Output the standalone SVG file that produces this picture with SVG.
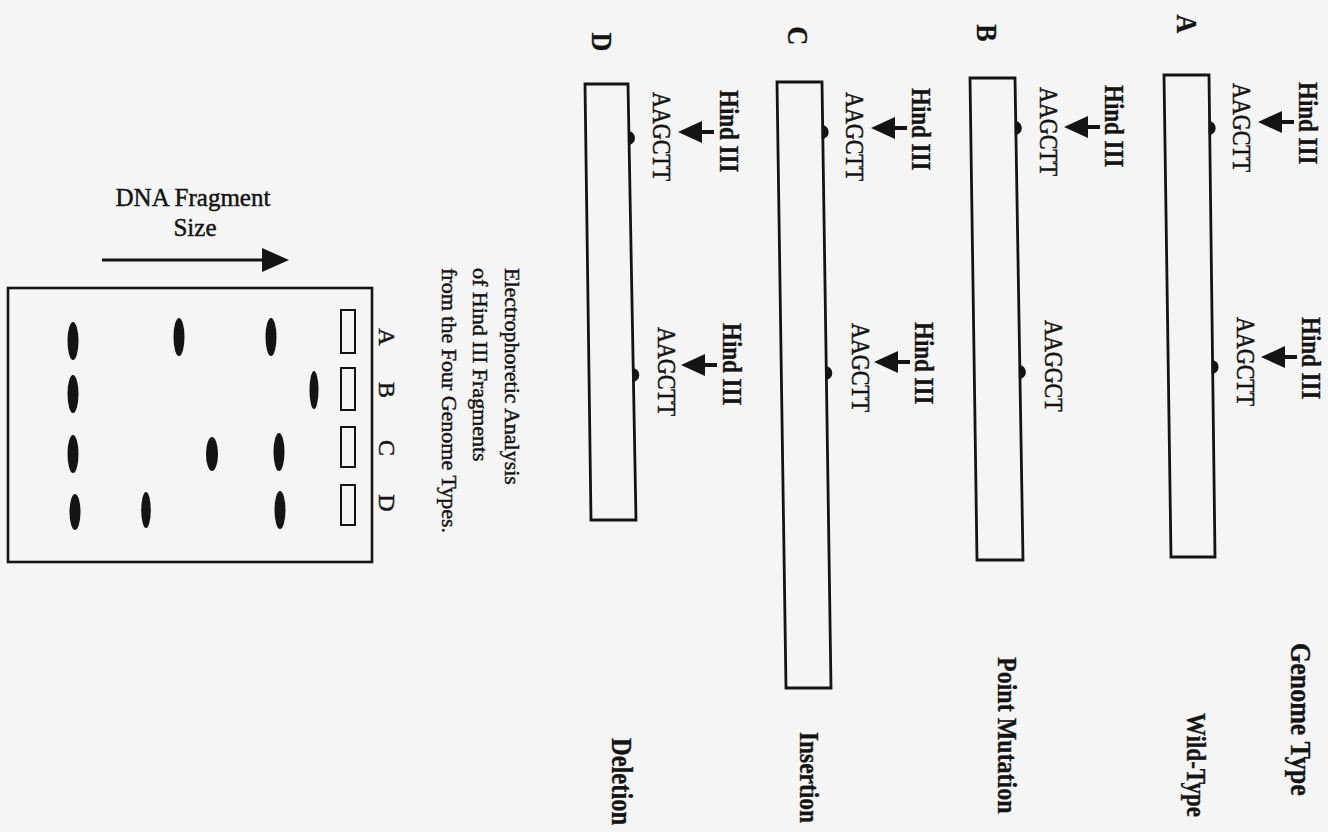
<svg xmlns="http://www.w3.org/2000/svg" xmlns:xlink="http://www.w3.org/1999/xlink" width="1328" height="832" viewBox="0 0 1328 832">
<style>
  .t { font-family: "Liberation Serif", "Times New Roman", serif; fill: #141414; stroke: #141414; stroke-width: 0.45; }
  .b { font-weight: bold; stroke-width: 0.3; }
  .hind { font-size: 23px; font-weight: bold; stroke-width: 0.3; }
  .seq { font-size: 22px; }
  .lab { font-size: 26px; font-weight: bold; stroke-width: 0.3; }
  .box { fill: none; stroke: #141414; stroke-width: 2.8; stroke-linejoin: miter; }
  .bump { fill: #141414; }
  .band { fill: #141414; }
  .well { fill: none; stroke: #141414; stroke-width: 2; }
  .gel { fill: none; stroke: #141414; stroke-width: 2.6; }
  .cap { font-size: 22px; }
  .lane { font-size: 24px; }
</style>
<defs>
  <path id="harrow" d="M0,0 L24,-11 L24,-2 L36,-2 L36,2 L24,2 L24,11 Z" fill="#141414"/>
</defs>
<rect x="0" y="0" width="1328" height="832" fill="#f5f5f5"/>

<g id="title">
  <text class="t b" font-size="26" transform="translate(1291,643) rotate(90) scale(1,1.17)">Genome Type</text>
</g>

<g id="genome-A">
  <text class="t lab" text-anchor="middle" transform="translate(1177,24) rotate(90) scale(1,1.17)">A</text>
  <polygon class="box" points="1164,75 1209,75 1215,557 1171,557"/>
  <path class="bump" d="M1208.7,121 A7,7 0 0 1 1208.7,135 Z"/>
  <path class="bump" d="M1211.6,360 A7,7 0 0 1 1211.6,374 Z"/>
  <text class="t hind" transform="translate(1299,82) rotate(90) scale(1,1.17)">Hind III</text>
  <text class="t hind" transform="translate(1302,317) rotate(90) scale(1,1.17)">Hind III</text>
  <text class="t seq" transform="translate(1233,83) rotate(90) scale(1,1.17)">AAGCTT</text>
  <text class="t seq" transform="translate(1237,317) rotate(90) scale(1,1.17)">AAGCTT</text>
  <text class="t b" font-size="23" transform="translate(1187,713) rotate(90) scale(1,1.17)">Wild-Type</text>
</g>

<g id="genome-B">
  <text class="t lab" text-anchor="middle" transform="translate(977,33) rotate(90) scale(1,1.17)">B</text>
  <polygon class="box" points="970,78 1015,78 1023,560 977,560"/>
  <path class="bump" d="M1014.8,121 A7,7 0 0 1 1014.8,135 Z"/>
  <path class="bump" d="M1018.9,365 A7,7 0 0 1 1018.9,379 Z"/>
  <text class="t hind" transform="translate(1105,85) rotate(90) scale(1,1.17)">Hind III</text>
  <text class="t seq" transform="translate(1040,87) rotate(90) scale(1,1.17)">AAGCTT</text>
  <text class="t seq" transform="translate(1045,320) rotate(90) scale(1,1.17)">AAGGCT</text>
  <text class="t b" font-size="24" transform="translate(998,657) rotate(90) scale(1,1.17)">Point Mutation</text>
</g>

<g id="genome-C">
  <text class="t lab" text-anchor="middle" transform="translate(788,36) rotate(90) scale(1,1.17)">C</text>
  <polygon class="box" points="777,82 822,82 831,688 786,688"/>
  <path class="bump" d="M821.7,125 A7,7 0 0 1 821.7,139 Z"/>
  <path class="bump" d="M825.3,366 A7,7 0 0 1 825.3,380 Z"/>
  <text class="t hind" transform="translate(912,88) rotate(90) scale(1,1.17)">Hind III</text>
  <text class="t hind" transform="translate(915,322) rotate(90) scale(1,1.17)">Hind III</text>
  <text class="t seq" transform="translate(846,92) rotate(90) scale(1,1.17)">AAGCTT</text>
  <text class="t seq" transform="translate(852,323) rotate(90) scale(1,1.17)">AAGCTT</text>
  <text class="t b" font-size="23.4" transform="translate(800,732) rotate(90) scale(1,1.17)">Insertion</text>
</g>

<g id="genome-D">
  <text class="t lab" text-anchor="middle" transform="translate(592,42) rotate(90) scale(1,1.17)">D</text>
  <polygon class="box" points="585,84 628,84 636,520 591,520"/>
  <path class="bump" d="M628,131 A7,7 0 0 1 628,145 Z"/>
  <path class="bump" d="M632.3,368 A7,7 0 0 1 632.3,382 Z"/>
  <text class="t hind" transform="translate(720,90) rotate(90) scale(1,1.17)">Hind III</text>
  <text class="t hind" transform="translate(723,323) rotate(90) scale(1,1.17)">Hind III</text>
  <text class="t seq" transform="translate(653,92) rotate(90) scale(1,1.17)">AAGCTT</text>
  <text class="t seq" transform="translate(658,327) rotate(90) scale(1,1.17)">AAGCTT</text>
  <text class="t b" font-size="24.5" transform="translate(612,738) rotate(90) scale(1,1.17)">Deletion</text>
</g>

<g id="caption">
  <text class="t cap" transform="translate(505,268) rotate(90)">Electrophoretic Analysis</text>
  <text class="t cap" transform="translate(473,268) rotate(90)">of Hind III Fragments</text>
  <text class="t cap" transform="translate(442,268) rotate(90)">from the Four Genome Types.</text>
</g>

<g id="size-label">
  <text class="t" font-size="25" x="193" y="206" text-anchor="middle">DNA Fragment</text>
  <text class="t" font-size="25" x="195" y="236" text-anchor="middle">Size</text>
</g>

<g id="gel">
  <rect class="gel" x="8" y="288" width="364" height="274"/>
  <rect class="well" x="341" y="310" width="14" height="43"/>
  <rect class="well" x="341" y="368" width="14" height="42"/>
  <rect class="well" x="341" y="427" width="14" height="40"/>
  <rect class="well" x="341" y="485" width="14" height="40"/>
  <text class="t lane" text-anchor="middle" transform="translate(379,337) rotate(90)">A</text>
  <text class="t lane" text-anchor="middle" transform="translate(379,390) rotate(90)">B</text>
  <text class="t lane" text-anchor="middle" transform="translate(379,448) rotate(90)">C</text>
  <text class="t lane" text-anchor="middle" transform="translate(379,503) rotate(90)">D</text>
  <ellipse class="band" cx="271" cy="337" rx="5.5" ry="19"/>
  <ellipse class="band" cx="179" cy="337" rx="5.5" ry="19"/>
  <ellipse class="band" cx="73" cy="341" rx="5.5" ry="19"/>
  <ellipse class="band" cx="314" cy="390" rx="4.5" ry="19"/>
  <ellipse class="band" cx="73" cy="394" rx="5.5" ry="19"/>
  <ellipse class="band" cx="279" cy="452" rx="5.5" ry="19"/>
  <ellipse class="band" cx="212" cy="454" rx="6" ry="17"/>
  <ellipse class="band" cx="73" cy="454" rx="5.5" ry="19"/>
  <ellipse class="band" cx="280" cy="510" rx="5.5" ry="19"/>
  <ellipse class="band" cx="146" cy="510" rx="4.8" ry="18"/>
  <ellipse class="band" cx="75" cy="512" rx="5.5" ry="18"/>
</g>

<g id="connectors">
  <use xlink:href="#harrow" x="1258" y="122"/>
  <use xlink:href="#harrow" x="1261" y="357"/>
  <use xlink:href="#harrow" x="1064" y="127"/>
  <use xlink:href="#harrow" x="871" y="128"/>
  <use xlink:href="#harrow" x="874" y="362"/>
  <use xlink:href="#harrow" x="678" y="132"/>
  <use xlink:href="#harrow" x="681" y="365"/>
  <line x1="102" y1="260" x2="265" y2="260" stroke="#141414" stroke-width="3"/>
  <polygon points="262,248 289,260 262,272" fill="#141414"/>
</g>
</svg>
